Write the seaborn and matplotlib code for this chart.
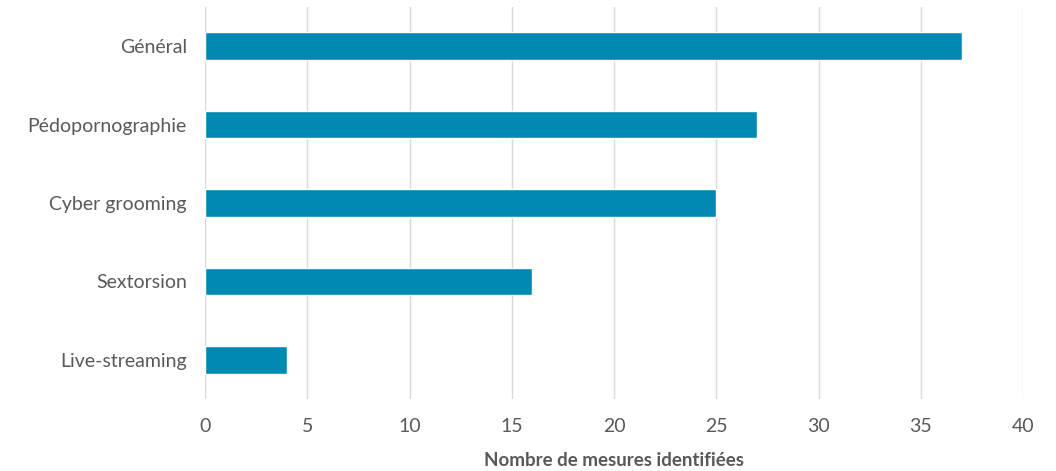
import matplotlib
matplotlib.use("Agg")
import matplotlib.pyplot as plt
import seaborn as sns
import pandas as pd

categories = ["Général", "Pédopornographie", "Cyber grooming", "Sextorsion", "Live-streaming"]
values = [37, 27, 25, 16, 4]
xticks = [0, 5, 10, 15, 20, 25, 30, 35, 40]
xlabel = "Nombre de mesures identifiées"

sns.set_theme(style="white")
plt.rcParams['font.family'] = ['Lato', 'DejaVu Sans']

df = pd.DataFrame({"cat": categories, "val": values})

fig = plt.figure(figsize=(10.56, 4.71), dpi=100)
ax = fig.add_axes([205/1056, 1 - 399/471, (1023-205)/1056, (399-7)/471])

sns.barplot(data=df, y="cat", x="val", orient="h", color="#0089B3",
            saturation=1, width=0.35, ax=ax)

ax.set_xlim(0, 40)
ax.set_ylim(4.5, -0.5)
ax.set_xticks(xticks)
ax.set_xticklabels([str(t) for t in xticks])
ax.xaxis.grid(True, color="#d9d9d9", linewidth=1)
ax.set_axisbelow(True)
for s in ax.spines.values():
    s.set_visible(False)
ax.tick_params(axis="both", length=0, labelsize=14, colors="#595959")
ax.tick_params(axis="x", pad=14)
ax.tick_params(axis="y", pad=13)
ax.set_ylabel("")
ax.set_xlabel(xlabel, fontsize=13.5, fontweight="bold", color="#595959", labelpad=12)

fig.savefig("out.png", dpi=100)
